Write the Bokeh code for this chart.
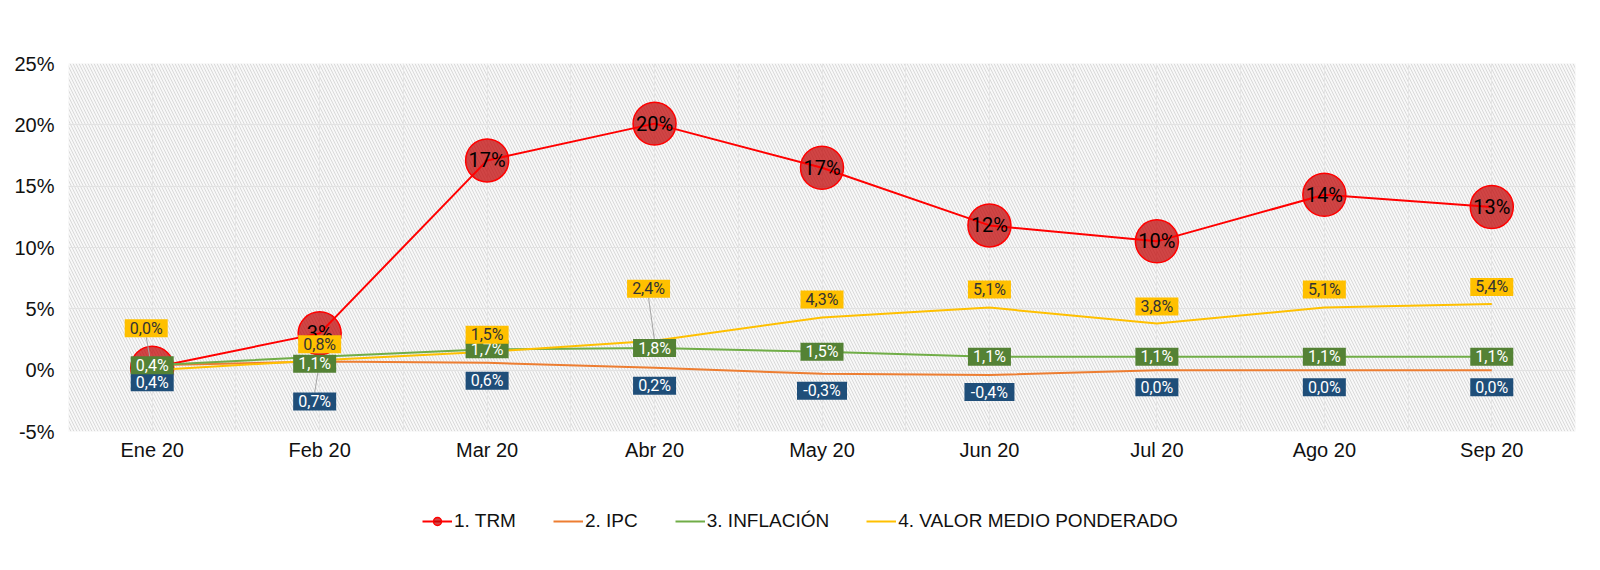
from bokeh.plotting import figure
from bokeh.layouts import column
from bokeh.models import (Range1d, FixedTicker, BoxAnnotation, Legend, LegendItem,
                          PrintfTickFormatter)
from bokeh.core.properties import value
from bokeh.embed import file_html
from bokeh.resources import INLINE

# ---------------- data ----------------
categories = ["Ene 20", "Feb 20", "Mar 20", "Abr 20", "May 20", "Jun 20", "Jul 20", "Ago 20", "Sep 20"]
trm = [0.2, 3.0, 17.1, 20.1, 16.5, 11.8, 10.5, 14.3, 13.3]
trm_labels = ["0%", "3%", "17%", "20%", "17%", "12%", "10%", "14%", "13%"]
ipc = [0.4, 0.7, 0.6, 0.2, -0.3, -0.4, 0.0, 0.0, 0.0]
inflacion = [0.4, 1.1, 1.7, 1.8, 1.5, 1.1, 1.1, 1.1, 1.1]
valor_medio = [0.0, 0.8, 1.5, 2.4, 4.3, 5.1, 3.8, 5.1, 5.4]
y_ticks = [-5, 0, 5, 10, 15, 20, 25]
series_names = ["1. TRM", "2. IPC", "3. INFLACIÓN", "4. VALOR MEDIO PONDERADO"]

# ---------------- label placement (screen px) ----------------
vmp_dy = [42, 16, 17, 52, 18, 18, 17, 18, 17]
vmp_dx = [-6, 0, 0, -6, 0, 0, 0, 0, 0]
inf_dy = [0, -7, 0, 0, 0, 0, 0, 0, 0]
inf_dx = [0, -5, 0, 0, 0, 0, 0, 0, 0]
ipc_dy = [-17, -40, -18, -18, -17, -17, -17, -17, -17]
ipc_dx = [0, -5, 0, 0, 0, 0, 0, 0, 0]
vmp_leaders = [0, 3]
ipc_leaders = [1]

W, H = 1584, 471
ML, MR, MT, MB = 68, 9, 63, 40
FW, FH = W - ML - MR, H - MT - MB
X0, X1, Y0, Y1 = -0.5, len(categories) - 0.5, -5, 25
PX_X = FW / (X1 - X0)
PX_Y = FH / (Y1 - Y0)

C_TRM, C_TRM_FILL, C_IPC, C_INF, C_VMP = "#FF0000", "#C00000", "#ED7D31", "#70AD47", "#FFC000"

idx = list(range(len(categories)))

p = figure(width=W, height=H, output_backend="svg", toolbar_location=None,
           x_range=Range1d(X0, X1), y_range=Range1d(Y0, Y1),
           min_border_left=ML, min_border_right=MR, min_border_top=MT, min_border_bottom=MB)
p.outline_line_color = None
p.background_fill_color = "#F8F8F8"
p.border_fill_color = "white"

p.add_layout(BoxAnnotation(fill_alpha=0, line_alpha=0, hatch_pattern="\\",
                           hatch_color="#D9D9D9", hatch_scale=6, hatch_weight=1, level="image"))

# axes
p.yaxis.ticker = FixedTicker(ticks=y_ticks)
p.yaxis.formatter = PrintfTickFormatter(format="%d%%")
p.xaxis.ticker = FixedTicker(ticks=idx)
p.xaxis.major_label_overrides = {i: c for i, c in enumerate(categories)}
for ax in (p.xaxis[0], p.yaxis[0]):
    ax.axis_line_color = None
    ax.major_tick_line_color = None
    ax.minor_tick_line_color = None
    ax.major_tick_out = 0
    ax.major_tick_in = 0
    ax.major_label_text_font = "Liberation Sans"
    ax.major_label_text_font_size = "20px"
    ax.major_label_text_color = "#111111"
p.yaxis.major_label_standoff = 14
p.xaxis.major_label_standoff = 7

p.ygrid.ticker = FixedTicker(ticks=y_ticks)
p.ygrid.grid_line_color = "#E2E2E2"
p.xgrid.ticker = FixedTicker(ticks=idx, minor_ticks=[i - 0.5 for i in range(len(categories) + 1)])
p.xgrid.grid_line_color = "#E6E6E6"
p.xgrid.minor_grid_line_color = "#E6E6E6"

# series
p.scatter(idx, trm, size=43, fill_color=C_TRM_FILL, fill_alpha=0.72, line_color=C_TRM, line_width=1.5)
p.line(idx, trm, color=C_TRM, line_width=2)
p.line(idx, ipc, color=C_IPC, line_width=2)
p.line(idx, inflacion, color=C_INF, line_width=2)
p.line(idx, valor_medio, color=C_VMP, line_width=2)

p.text(idx, trm, text=trm_labels, text_align="center", text_baseline="middle",
       text_color="#000000", text_font=value("Roboto"), text_font_size="20px")


def fmt(v):
    return ("%.1f" % v).replace(".", ",") + "%"


def label_pos(vals, dx, dy):
    lx = [i + d / PX_X for i, d in zip(idx, dx)]
    ly = [v + d / PX_Y for v, d in zip(vals, dy)]
    return lx, ly


def leaders(vals, lx, ly, which, up):
    if not which:
        return
    x0 = [lx[i] for i in which]
    y0 = [ly[i] + (9 if up else -9) / PX_Y for i in which]
    x1 = [idx[i] for i in which]
    y1 = [vals[i] for i in which]
    p.segment(x0=x0, y0=y0, x1=x1, y1=y1, line_color="#A6A6A6", line_width=1)


def box_labels(vals, lx, ly, fill, tcolor):
    texts = [fmt(v) for v in vals]
    widths = [7 * len(t) + 15 for t in texts]
    p.rect(x=lx, y=ly, width=widths, height=18, width_units="screen", height_units="screen",
           fill_color=fill, line_color=None)
    p.text(x=lx, y=ly, text=texts, text_align="center", text_baseline="middle",
           text_color=tcolor, text_font=value("Roboto"), text_font_size="16px")


ipc_x, ipc_y = label_pos(ipc, ipc_dx, ipc_dy)
inf_x, inf_y = label_pos(inflacion, inf_dx, inf_dy)
vmp_x, vmp_y = label_pos(valor_medio, vmp_dx, vmp_dy)

leaders(ipc, ipc_x, ipc_y, ipc_leaders, True)
leaders(valor_medio, vmp_x, vmp_y, vmp_leaders, False)

box_labels(ipc, ipc_x, ipc_y, "#1F4E79", "white")
box_labels(inflacion, inf_x, inf_y, "#548235", "white")
box_labels(valor_medio, vmp_x, vmp_y, "#FFC000", "#333333")

# ---------------- legend strip (hidden copies of the series feed the legend glyphs) ----------------
LH = 70
q = figure(width=W, height=LH, output_backend="svg", toolbar_location=None,
           x_range=Range1d(X0, X1), y_range=Range1d(Y0, Y1), x_axis_type=None, y_axis_type=None,
           min_border=0)
q.outline_line_color = None
q.grid.visible = False
g1a = q.line(idx, trm, color=C_TRM, line_width=2, visible=False)
g1b = q.scatter(idx, trm, size=14, fill_color=C_TRM_FILL, fill_alpha=0.72,
                line_color=C_TRM, line_width=1.5, visible=False)
g2 = q.line(idx, ipc, color=C_IPC, line_width=2, visible=False)
g3 = q.line(idx, inflacion, color=C_INF, line_width=2, visible=False)
g4 = q.line(idx, valor_medio, color=C_VMP, line_width=2, visible=False)

legend = Legend(items=[
    LegendItem(label=series_names[0], renderers=[g1a, g1b]),
    LegendItem(label=series_names[1], renderers=[g2]),
    LegendItem(label=series_names[2], renderers=[g3]),
    LegendItem(label=series_names[3], renderers=[g4]),
], orientation="horizontal", location=(354, LH - 41 - 20))
legend.background_fill_alpha = 0
legend.border_line_color = None
legend.inactive_fill_alpha = 0
legend.label_text_font = "Liberation Sans"
legend.label_text_font_size = "19px"
legend.label_text_color = "#111111"
legend.glyph_width = 30
legend.glyph_height = 20
legend.label_height = 20
legend.label_standoff = 2
legend.spacing = 37
legend.padding = 0
legend.margin = 0
q.add_layout(legend, "center")

layout = column(p, q, spacing=0)
open("out.html", "w").write(file_html(layout, INLINE))
